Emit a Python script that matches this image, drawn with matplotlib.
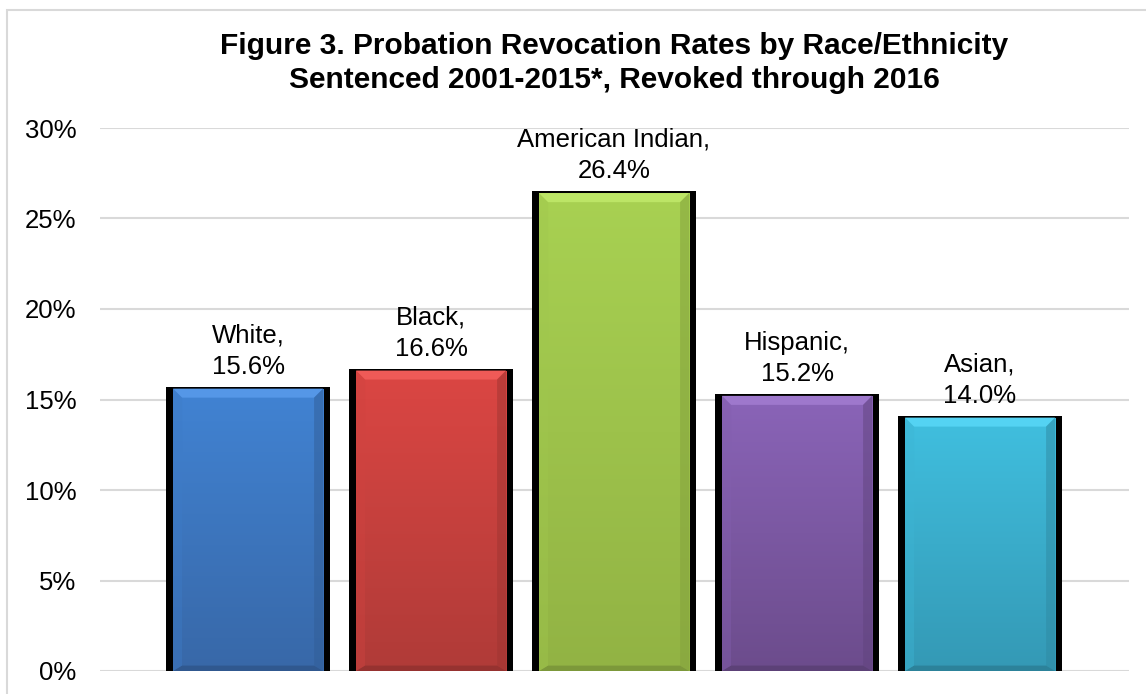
import numpy as np
import matplotlib
matplotlib.use("Agg")
import matplotlib.pyplot as plt
from matplotlib.patches import Rectangle, Polygon
from matplotlib.colors import to_rgb

plt.rcParams['font.family'] = ['Liberation Sans', 'DejaVu Sans']

# données
groups = ["White", "Black", "American Indian", "Hispanic", "Asian"]
rates = [15.6, 16.6, 26.4, 15.2, 14.0]
top_colors = ["#4183d3", "#db4643", "#a8d152", "#8a64b8", "#40bfdf"]
bottom_colors = ["#3868a8", "#b03b38", "#92b344", "#6c4c8c", "#3499b5"]
yticks = [0, 5, 10, 15, 20, 25, 30]

W, H = 1146, 694
fig = plt.figure(figsize=(W / 100, H / 100), dpi=100)
ax = fig.add_axes([100 / W, 23 / H, 1029 / W, 543 / H])

# cadre gris autour du graphique
fig.patches.append(Rectangle((7 / W, -0.05), 1.2, 1.05 - 10 / H, transform=fig.transFigure,
                             fill=False, edgecolor="#d9d9d9", lw=1.5, zorder=0))

px_x = 1 / 183.0   # une unité x = 183 px
px_y = 1 / 18.1    # 1% = 18.1 px
bw = 0.82

for i, (g, v) in enumerate(zip(groups, rates)):
    x0 = i - bw / 2
    x1 = i + bw / 2
    # ombre noire de chaque côté
    ax.add_patch(Rectangle((i - 0.447, 0), 0.894, v + 2 * px_y, facecolor="black",
                           edgecolor="none", zorder=2))
    # dégradé vertical
    rect = Rectangle((x0, 0), bw, v, facecolor="none", edgecolor="none", zorder=3)
    ax.add_patch(rect)
    c_top = np.array(to_rgb(top_colors[i]))
    c_bot = np.array(to_rgb(bottom_colors[i]))
    t = np.linspace(0, 1, 100)[:, None]
    grad = (c_top * (1 - t) + c_bot * t)[:, None, :]
    im = ax.imshow(grad, extent=[x0, x1, 0, v], origin="upper", aspect="auto",
                   interpolation="bilinear", zorder=3)
    im.set_clip_path(rect)
    # biseau en haut (plus clair) et à droite / en bas (plus sombre)
    bx = 9 * px_x
    by = 9 * px_y
    light = np.clip(c_top + 0.08, 0, 1)
    ax.add_patch(Polygon([[x0, v], [x1, v], [x1 - bx, v - by], [x0 + bx, v - by]],
                         closed=True, facecolor=light, edgecolor="none", zorder=4))
    ax.add_patch(Polygon([[x1, v], [x1, 0], [x1 - bx, by * 0.6], [x1 - bx, v - by]],
                         closed=True, facecolor=c_bot * 0.9, edgecolor="none", zorder=4, alpha=0.5))
    ax.add_patch(Polygon([[x0, 0], [x1, 0], [x1 - bx, by * 0.6], [x0 + bx, by * 0.6]],
                         closed=True, facecolor=c_bot * 0.85, edgecolor="none", zorder=4))
    ax.add_patch(Polygon([[x0, 0], [x0, v], [x0 + bx, v - by], [x0 + bx, by * 0.6]],
                         closed=True, facecolor=c_top * 0.95, edgecolor="none", zorder=4, alpha=0.4))
    ax.annotate(f"{g},\n{v:.1f}%", xy=(i, v), xytext=(0, 7), textcoords="offset points",
                ha="center", va="bottom", fontsize=18.5, linespacing=1.4, zorder=6)

ax.set_xlim(-0.809, 4.814)
ax.set_ylim(0, 30)
ax.set_yticks(yticks)
ax.set_yticklabels([f"{t}%" for t in yticks], fontsize=18.5)
ax.set_xticks([])
ax.tick_params(axis="y", length=0, pad=17)
ax.grid(axis="y", color="#d9d9d9", lw=1.5, zorder=0)
ax.set_axisbelow(True)
for s in ax.spines.values():
    s.set_visible(False)

fig.text(614.5 / W, 1 - 63 / H,
         "Figure 3. Probation Revocation Rates by Race/Ethnicity\nSentenced 2001-2015*, Revoked through 2016",
         ha="center", va="center", fontsize=21.5, fontweight="bold", linespacing=1.25)

fig.savefig("out.png", dpi=100)
